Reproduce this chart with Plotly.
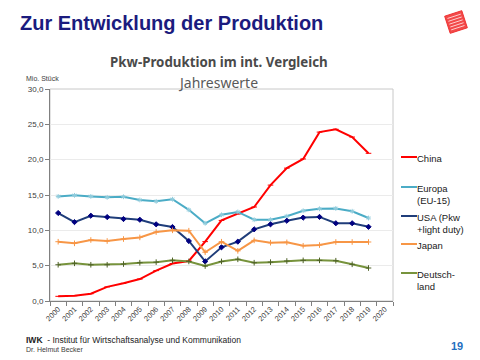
import math
import plotly.graph_objects as go

years = [str(y) for y in range(2000, 2021)]
china = [0.66, 0.75, 1.03, 2.0, 2.5, 3.1, 4.3, 5.3, 5.66, 8.4, 11.4, 12.3, 13.3, 16.4, 18.8, 20.1, 23.9, 24.3, 23.2, 20.9]
europa = [14.8, 14.95, 14.8, 14.67, 14.75, 14.3, 14.1, 14.4, 12.9, 11.0, 12.2, 12.6, 11.5, 11.5, 12.0, 12.77, 13.05, 13.1, 12.7, 11.74]
usa = [12.45, 11.17, 12.07, 11.88, 11.6, 11.5, 10.85, 10.47, 8.49, 5.6, 7.6, 8.4, 10.14, 10.85, 11.36, 11.8, 11.9, 11.0, 11.0, 10.5]
japan = [8.39, 8.16, 8.63, 8.49, 8.77, 9.0, 9.76, 10.0, 9.95, 6.9, 8.39, 7.1, 8.58, 8.25, 8.3, 7.82, 7.92, 8.35, 8.35, 8.35]
deutschland = [5.13, 5.33, 5.13, 5.13, 5.23, 5.42, 5.5, 5.75, 5.6, 4.95, 5.6, 5.9, 5.42, 5.5, 5.66, 5.75, 5.75, 5.7, 5.19, 4.67]

series_names = ["China", "Europa<br>(EU-15)", "USA (Pkw<br>+light duty)", "Japan", "Deutsch-<br>land"]
series_vals = [china, europa, usa, japan, deutschland]
line_colors = ["#ff0000", "#4bacc6", "#1f3d7a", "#f79646", "#77933c"]
marker_colors = ["#ff0000", "#93cddd", "#000080", "#f79646", "#4f6228"]
marker_symbols = ["line-ew-open", "asterisk-open", "diamond", "cross-thin-open", "cross-thin-open"]

fig = go.Figure()
for name, vals, lc, mc, ms in zip(series_names, series_vals, line_colors, marker_colors, marker_symbols):
    fig.add_trace(go.Scatter(
        x=years[:len(vals)], y=vals, mode="lines+markers", name=name,
        line=dict(color=lc, width=2),
        marker=dict(symbol=ms, size=4, color=mc, line=dict(color=mc, width=1)),
        showlegend=False,
    ))

W, H = 480, 360
ml, mr, mt, mb = 50, 87, 89, 59
PW, PH = W - ml - mr, H - mt - mb

fig.update_layout(
    width=W, height=H,
    margin=dict(l=ml, r=mr, t=mt, b=mb),
    paper_bgcolor="white", plot_bgcolor="white",
    font=dict(family="Liberation Sans, Arial, sans-serif", color="#404040", size=8),
    xaxis=dict(
        type="category", categoryorder="array", categoryarray=years,
        range=[-0.5, 20.5], tickson="boundaries", ticks="outside", ticklen=4,
        tickcolor="#808080", tickangle=-45, tickfont=dict(size=7.5, color="#404040"),
        showgrid=False, showline=True, linecolor="#808080", linewidth=1,
        mirror=False, zeroline=False,
    ),
    yaxis=dict(
        range=[0, 30], tickvals=[0, 5, 10, 15, 20, 25, 30],
        ticktext=["0,0", "5,0", "10,0", "15,0", "20,0", "25,0", "30,0"],
        ticks="outside", ticklen=4, tickcolor="#808080",
        tickfont=dict(size=8, color="#404040"),
        showgrid=True, gridcolor="#ebebeb", gridwidth=1,
        showline=True, linecolor="#808080", linewidth=1, zeroline=False,
    ),
)

# plot area box (top & right in light gray)
fig.add_shape(type="rect", xref="paper", yref="paper", x0=0, x1=1, y0=0, y1=1,
              line=dict(color="#c8c8c8", width=1), layer="below")

def px(x):
    return (x - ml) / PW

def py(y):
    return (H - mb - y) / PH

ann = []
ann.append(dict(text="<b>Zur Entwicklung der Produktion</b>", x=px(18), y=py(23), xanchor="left", yanchor="middle",
                font=dict(size=20, color="#1b1b7e", family="Liberation Sans, Arial, sans-serif")))
ann.append(dict(text="<b>Pkw-Produktion im int. Vergleich</b>", x=px(219), y=py(62), xanchor="center", yanchor="middle",
                font=dict(size=13.3, color="#4a4a4a", family="Noto Sans, sans-serif")))
ann.append(dict(text="Jahreswerte", x=px(218), y=py(83), xanchor="center", yanchor="middle",
                font=dict(size=14, color="#595959", family="Noto Sans, sans-serif")))
ann.append(dict(text="Mio. Stück", x=px(24), y=py(78), xanchor="left", yanchor="middle",
                font=dict(size=7, color="#404040")))
ann.append(dict(text="<b>IWK</b>  - Institut für Wirtschaftsanalyse und Kommunikation", x=px(24), y=py(340), xanchor="left", yanchor="middle",
                font=dict(size=8.5, color="#222222")))
ann.append(dict(text="Dr. Helmut Becker", x=px(24), y=py(349), xanchor="left", yanchor="middle",
                font=dict(size=7, color="#404040")))
ann.append(dict(text="<b>19</b>", x=px(457), y=py(346), xanchor="center", yanchor="middle",
                font=dict(size=11, color="#1f6fbf")))

# manual legend
leg_y = [157, 187, 216, 244, 273]
for name, lc, ly in zip(series_names, line_colors, leg_y):
    fig.add_shape(type="line", xref="paper", yref="paper", x0=px(401), x1=px(417), y0=py(ly), y1=py(ly),
                  line=dict(color=lc, width=2))
    ann.append(dict(text=name, x=px(415), y=py(ly - 6.5), xanchor="left", yanchor="top", align="left",
                    font=dict(size=9.5, color="#1a1a1a")))

for a in ann:
    a.update(xref="paper", yref="paper", showarrow=False)
fig.update_layout(annotations=ann)

# logo: rotated red square with maze-like texture
cx, cy, s, ang = 456, 22, 18, math.radians(-18)
def rot(dx, dy):
    return (cx + dx * math.cos(ang) - dy * math.sin(ang), cy + dx * math.sin(ang) + dy * math.cos(ang))
corners = [rot(-s/2, -s/2), rot(s/2, -s/2), rot(s/2, s/2), rot(-s/2, s/2)]
path = "M " + " L ".join(f"{px(x)},{py(y)}" for x, y in corners) + " Z"
fig.add_shape(type="path", xref="paper", yref="paper", path=path, fillcolor="#f24a4a", line=dict(color="#f03030", width=1))
for k in range(1, 6):
    d = -s/2 + k * s / 6
    a0 = rot(-s/2 + 2, d)
    a1 = rot(s/2 - 2, d)
    fig.add_shape(type="line", xref="paper", yref="paper", x0=px(a0[0]), y0=py(a0[1]), x1=px(a1[0]), y1=py(a1[1]),
                  line=dict(color="#ffd0d0", width=1))

fig.write_html("out.html", config={"displayModeBar": False},
               post_script="document.body.style.margin='0';document.body.style.padding='0';")
